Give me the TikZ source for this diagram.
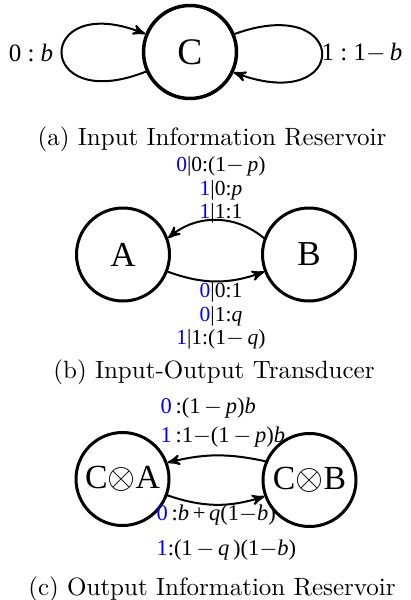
\documentclass[tikz,border=0pt]{standalone}
\usepackage{fontspec}
\newfontfamily\tms{Liberation Serif}
\usetikzlibrary{arrows}
\newcommand{\bl}[1]{\textcolor{blue}{#1}}
\newcommand{\mns}{$-$}

\begin{document}
\begin{tikzpicture}[line cap=round,line join=round,>=stealth',x=0.4pt,y=-0.4pt,
    state/.style={circle,draw,line width=1.2pt,inner sep=0pt,minimum size=37.2pt,font=\tms},
    trans/.style={line width=0.8pt,->},
    lbl/.style={inner sep=0pt,font=\tms\fontsize{8.6}{9.4}\selectfont},
    captext/.style={anchor=base,inner sep=0pt}]
      \useasboundingbox (0,0) rectangle (411,600);
      % (a) input reservoir
      \node[state,line width=1.4pt,font=\tms\fontsize{15}{15}\selectfont] (C) at (190,52) {C};
      \draw[trans] (C.204) .. controls (34,116) and (34,-10) .. (C.158);
      \draw[trans] (C.22) .. controls (351,-8) and (351,116) .. (C.-25);
      \node[lbl,font=\tms\fontsize{10}{10}\selectfont] (lzero) at (31,53) {0~:~\textit{b}};
      \node[lbl,font=\tms\fontsize{10}{10}\selectfont] (lone) at (362,53) {1~:~1\mns\,\textit{b}};
      \node[captext] (capa) at (212,145) {(a) Input Information Reservoir};
      % (b) transducer
      \node[state,font=\tms\fontsize{14}{14}\selectfont] (A) at (123,254.5) {A};
      \node[state,font=\tms\fontsize{14}{14}\selectfont] (B) at (309,254.5) {B};
      \draw[trans] (B.160) to[bend right=40] (A.20);
      \draw[trans] (A.-21) to[bend right=20] (B.201);
      \node[lbl,align=center] (lba) at (221,190)
        {\bl{0}|0:(1\mns\,\textit{p})\\ \bl{1}|0:\textit{p}\\ \bl{1}|1:1};
      \node[lbl,align=center] (lab) at (221,316)
        {\bl{0}|0:1\\ \bl{0}|1:\textit{q}\\ \bl{1}|1:(1\mns\,\textit{q})};
      \node[captext] (capb) at (214,378) {(b) Input-Output Transducer};
      % (c) output reservoir
      \node[state,font=\tms\fontsize{13.5}{13.5}\selectfont] (CA) at (122.5,479) {C$\otimes$A};
      \node[state,font=\tms\fontsize{13.5}{13.5}\selectfont] (CB) at (309.5,480) {C$\otimes$B};
      \draw[trans] (CB.157) to[bend right=13] (CA.20);
      \draw[trans] (CA.-20) to[bend right=18] (CB.200);
      \node[lbl,anchor=west,align=left,font=\tms\fontsize{9}{11.6}\selectfont] (lcb) at (160,422.5)
        {\bl{0}\,:(1\,\mns\,\textit{p})\textit{b}\\ \bl{1}\,:1\mns(1\,\mns\,\textit{p})\textit{b}};
      \node[lbl,anchor=west,align=left,font=\tms\fontsize{9}{14}\selectfont] (lca) at (156,533)
        {\bl{0}\,:\textit{b}\,+\,\textit{q}(1\mns\textit{b})\\ \bl{1}:(1\,\mns\,\textit{q}\,)(1\mns\textit{b})};
      \node[captext] (capc) at (212,595) {(c) Output Information Reservoir};
\end{tikzpicture}
\end{document}
